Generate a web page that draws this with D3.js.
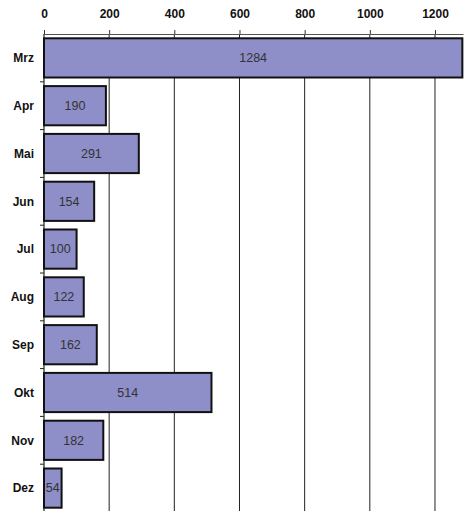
<!DOCTYPE html>
<html>
<head>
<meta charset="utf-8">
<script src="https://cdn.jsdelivr.net/npm/d3@7"></script>
<style>
  body { margin: 0; background: #fff; }
  svg text { font-family: "Liberation Sans", Arial, sans-serif; }
</style>
</head>
<body>
<svg class="chart"></svg>
<script>
var months = ["Mrz", "Apr", "Mai", "Jun", "Jul", "Aug", "Sep", "Okt", "Nov", "Dez"];
var counts = [1284, 190, 291, 154, 100, 122, 162, 514, 182, 54];
var ticks = [0, 200, 400, 600, 800, 1000, 1200];

var width = 468, height = 511;
var margin = {top: 34, left: 44, right: 5};

var svg = d3.select(".chart")
    .attr("width", width)
    .attr("height", height);

var x = d3.scaleLinear().domain([0, 1286]).range([margin.left, width - margin.right]);
var y = d3.scaleBand().domain(months).range([margin.top, margin.top + 478]).paddingInner(0.18).paddingOuter(0.09);

// vertical grid lines
svg.append("g").selectAll("line")
    .data(ticks.slice(1))
    .enter().append("line")
    .attr("x1", function(d) { return x(d); })
    .attr("x2", function(d) { return x(d); })
    .attr("y1", margin.top)
    .attr("y2", height)
    .attr("stroke", "#222")
    .attr("stroke-width", 1);

// top axis
var xAxis = svg.append("g")
    .attr("transform", "translate(0," + margin.top + ")")
    .call(d3.axisTop(x).tickValues(ticks).tickFormat(d3.format("d")).tickSize(4).tickSizeOuter(0).tickPadding(12));
xAxis.select(".domain").attr("stroke", "#555").attr("stroke-width", 1.2);
xAxis.selectAll(".tick line").attr("stroke", "#333");
xAxis.selectAll("text")
    .attr("font-size", 12)
    .attr("font-weight", "bold")
    .attr("fill", "#111");

// left axis line with tick marks between categories
svg.append("line")
    .attr("x1", margin.left).attr("x2", margin.left)
    .attr("y1", margin.top).attr("y2", height)
    .attr("stroke", "#222").attr("stroke-width", 1.2);
var step = y.step();
svg.append("g").selectAll("line")
    .data(months.slice(1))
    .enter().append("line")
    .attr("x1", margin.left - 4)
    .attr("x2", margin.left)
    .attr("y1", function(d) { return y(d) - step * 0.09; })
    .attr("y2", function(d) { return y(d) - step * 0.09; })
    .attr("stroke", "#222");

// bars
svg.append("g").selectAll("rect")
    .data(counts)
    .enter().append("rect")
    .attr("x", x(0))
    .attr("y", function(d, i) { return y(months[i]); })
    .attr("width", function(d) { return x(d) - x(0); })
    .attr("height", y.bandwidth())
    .attr("fill", "#8e8ec8")
    .attr("stroke", "#111")
    .attr("stroke-width", 2);

// value labels
svg.append("g").selectAll("text")
    .data(counts)
    .enter().append("text")
    .attr("x", function(d) { return (x(0) + x(d)) / 2; })
    .attr("y", function(d, i) { return y(months[i]) + y.bandwidth() / 2; })
    .attr("dy", "0.35em")
    .attr("text-anchor", "middle")
    .attr("font-size", 12.5)
    .attr("fill", "#333")
    .text(function(d) { return d; });

// category labels
svg.append("g").selectAll("text")
    .data(months)
    .enter().append("text")
    .attr("x", 34)
    .attr("y", function(d) { return y(d) + y.bandwidth() / 2; })
    .attr("dy", "0.35em")
    .attr("text-anchor", "end")
    .attr("font-size", 12)
    .attr("font-weight", "bold")
    .attr("fill", "#111")
    .text(function(d) { return d; });
</script>
</body>
</html>
